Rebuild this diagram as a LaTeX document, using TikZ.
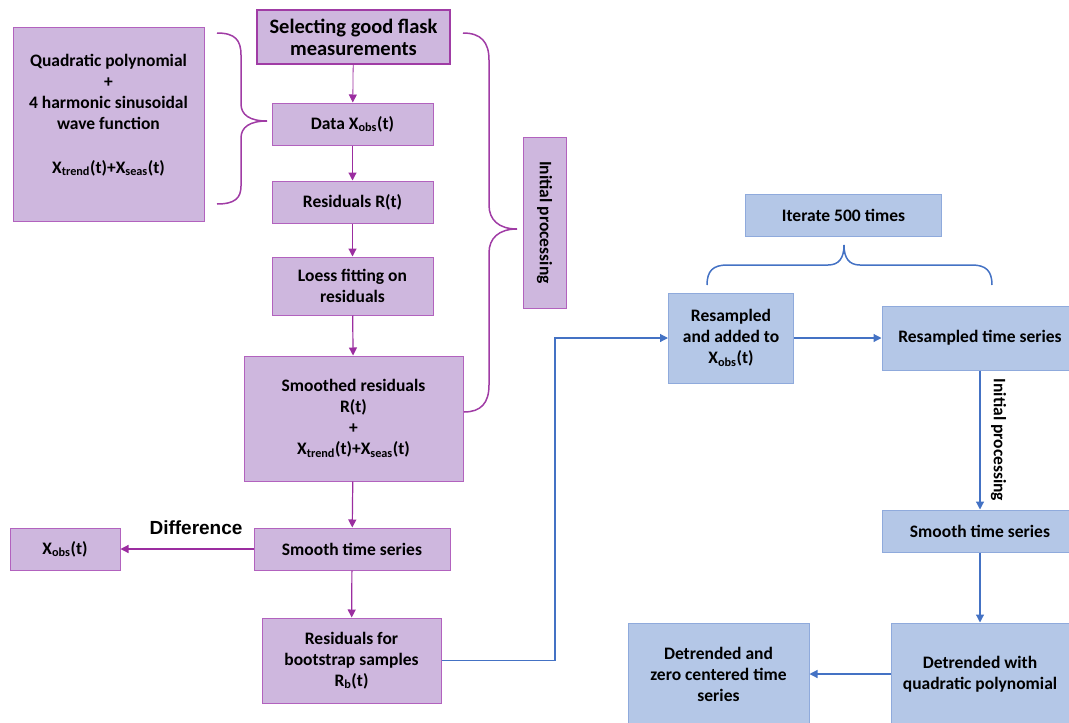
\documentclass[tikz,border=0pt]{standalone}
\usepackage{fontspec}
\setmainfont{Carlito}
\newfontfamily\arialfont{Liberation Sans}
\usetikzlibrary{arrows.meta,positioning}
\definecolor{flaskfill}{RGB}{206,183,222}
\definecolor{flaskline}{RGB}{178,98,190}
\definecolor{flaskdark}{RGB}{160,60,165}
\definecolor{flaskarrow}{RGB}{155,45,160}
\definecolor{bootfill}{RGB}{180,199,231}
\definecolor{bootline}{RGB}{143,170,220}
\definecolor{bootarrow}{RGB}{68,114,196}
\tikzset{%
	pbox/.style   = {draw=flaskline, fill=flaskfill, rectangle, line width=1pt, align=center, inner sep=0pt, font=\bfseries\fontsize{17.5}{21}\selectfont},
	bbox/.style   = {draw=bootline, fill=bootfill, rectangle, line width=1pt, align=center, inner sep=0pt, font=\bfseries\fontsize{17.5}{21}\selectfont},
	parrow/.style = {draw=flaskarrow, line width=1.2pt, -{Triangle[length=8pt,width=8pt]}},
	barrow/.style = {draw=bootarrow, line width=1.2pt, -{Triangle[length=8pt,width=8pt]}},
	pbrace/.style = {draw=flaskdark, line width=1.5pt},
	bbrace/.style = {draw=bootarrow, line width=1.5pt},
}
\begin{document}
\begin{tikzpicture}[x=1pt,y=-1pt]
	\useasboundingbox (0,0) rectangle (1069,723);
	\clip (0,0) rectangle (1069,723);
	% left column
	\node[pbox, draw=flaskdark, line width=2pt, minimum width=193, minimum height=54, font=\bfseries\fontsize{20.5}{22}\selectfont] (sel) at (353.5,37) {Selecting good flask\\measurements};
	\node[pbox, minimum width=191, minimum height=194] (quad) at (108.5,124) {Quadratic polynomial\\+\\4 harmonic sinusoidal\\wave function\\[23pt]X\textsubscript{trend}(t)+X\textsubscript{seas}(t)\\[0pt]\mbox{}};
	\node[pbox, minimum width=161, minimum height=42] (data) at (352.5,124) {Data X\textsubscript{obs}(t)};
	\node[pbox, minimum width=161, minimum height=42] (resid) at (352.5,202) {Residuals R(t)};
	\node[pbox, minimum width=161, minimum height=58] (loess) at (352.5,286) {Loess fitting on\\residuals};
	\node[pbox, minimum width=219, minimum height=125] (smres) at (353.5,418.5) {Smoothed residuals\\R(t)\\+\\X\textsubscript{trend}(t)+X\textsubscript{seas}(t)};
	\node[pbox, rotate=-90, minimum width=171, minimum height=43] (initp) at (544.5,222.5) {Initial processing};
	\node[pbox, minimum width=196, minimum height=42] (smts) at (352,549) {Smooth time series};
	\node[pbox, minimum width=110, minimum height=42] (xobs) at (65,549) {X\textsubscript{obs}(t)};
	\node[pbox, minimum width=179, minimum height=85] (boot) at (351.5,660.5) {Residuals for\\bootstrap samples\\R\textsubscript{b}(t)};
	\node[font=\arialfont\bfseries\fontsize{19}{21}\selectfont] (diff) at (196,528) {Difference};

	% right column
	\node[bbox, minimum width=196, minimum height=42] (iter) at (843.5,215) {Iterate 500 times};
	\node[bbox, minimum width=125, minimum height=90] (resadd) at (731,338) {Resampled\\and added to\\X\textsubscript{obs}(t)};
	\node[bbox, minimum width=196, minimum height=64] (rests) at (980,338) {Resampled time series};
	\node[bbox, minimum width=196, minimum height=42] (smts2) at (980,531) {Smooth time series};
	\node[bbox, minimum width=178, minimum height=102] (detq) at (980,674) {Detrended with\\quadratic polynomial};
	\node[bbox, minimum width=181, minimum height=102] (detz) at (718.5,674) {Detrended and\\zero centered time\\series};
	\coordinate (kink) at (555,338);

	% braces
	\draw[pbrace] (217,33) .. controls (235,33) and (241,40) .. (241,55) -- (241,104)
		.. controls (241,115) and (250,121) .. (267,121)
		.. controls (250,121) and (241,127) .. (241,138) -- (241,186)
		.. controls (241,198) and (235,204) .. (217,204);
	\draw[pbrace] (463,33) .. controls (481,33) and (489,42) .. (489,60) -- (489,205)
		.. controls (489,220) and (499,229) .. (517,229)
		.. controls (499,229) and (489,238) .. (489,253) -- (489,385)
		.. controls (489,403) and (481,412) .. (464,412);
	\draw[bbrace] (707,285) .. controls (707,271) and (713,265) .. (727,265) -- (828,265)
		.. controls (839,265) and (844,258) .. (844,245)
		.. controls (844,258) and (849,265) .. (860,265) -- (972,265)
		.. controls (986,265) and (992,271) .. (992,285);

	% connectors
	\draw[parrow, line width=0.8pt] (sel) -- (data);
	\draw[parrow] (data) -- (resid);
	\draw[parrow] (resid) -- (loess);
	\draw[parrow] (loess) -- (smres);
	\draw[parrow] (smres) -- (smts);
	\draw[parrow] (smts) -- (xobs);
	\draw[parrow] (smts) -- (boot);
	\draw[barrow] (boot.east) -| (kink) -- (resadd.west);
	\draw[barrow] (resadd) -- (rests);
	\draw[barrow] (rests) -- node[midway, sloped, above=7pt, font=\bfseries\fontsize{17.5}{21}\selectfont] {Initial processing} (smts2);
	\draw[barrow] (smts2) -- (detq);
	\draw[barrow] (detq) -- (detz);
\end{tikzpicture}
\end{document}
